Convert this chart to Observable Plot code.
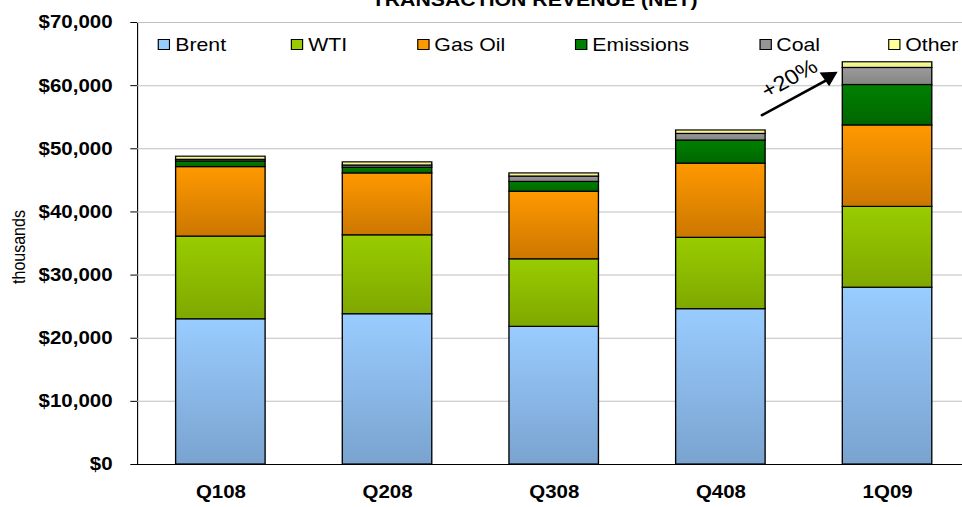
<!DOCTYPE html>
<html><head><meta charset="utf-8">
<script src="https://cdn.jsdelivr.net/npm/d3@7"></script>
<script src="https://cdn.jsdelivr.net/npm/@observablehq/plot@0.6"></script>
<style>
html,body{margin:0;padding:0;background:#fff;overflow:hidden}
#wrap{position:relative;width:860px;height:507px;transform:scale(1.1186,1);transform-origin:0 0;font-family:"Liberation Sans",Arial,sans-serif;color:#000}
#title{position:absolute;top:-10px;left:478px;transform:translateX(-50%);font-weight:bold;font-size:19px;line-height:19px;white-space:nowrap}
#ylab{position:absolute;left:16.8px;top:247px;transform:translate(-50%,-50%) rotate(-90deg);font-size:16px;line-height:16px;white-space:nowrap}
.leg{position:absolute;top:34.5px;height:19px;display:flex;align-items:center;font-size:19px;line-height:19px;white-space:nowrap}
.sw{width:9px;height:9px;border:1px solid #000;margin-right:4.5px}
#chart{position:absolute;left:0;top:0}
</style></head>
<body>
<div id="wrap">
  <div id="chart"></div>
  <div id="title">TRANSACTION REVENUE (NET)</div>
  <div id="ylab">thousands</div>
  <div id="legend"></div>
</div>
<script>
const quarters = ["Q108", "Q208", "Q308", "Q408", "1Q09"];
const seriesNames = ["Brent", "WTI", "Gas Oil", "Emissions", "Coal", "Other"];
const brent     = [23000, 23800, 21800, 24600, 28000];
const wti       = [13100, 12500, 10700, 11300, 12800];
const gasOil    = [11000,  9800, 10700, 11750, 12900];
const emissions = [  900,   900,  1550,  3650,  6400];
const coal      = [  250,   350,   850,  1050,  2700];
const other     = [  500,   500,   500,   550,   900];
const yTicks = [0, 10000, 20000, 30000, 40000, 50000, 60000, 70000];

const gradTop    = ["#99CCFF", "#99CC00", "#FF9900", "#008000", "#9A9A9A", "#FFFF99"];
const gradBottom = ["#7AA3CF", "#7FA800", "#CC7700", "#006600", "#858585", "#E8E88A"];
const swatch     = ["#99CCFF", "#99CC00", "#FF9900", "#008000", "#969696", "#FFFF99"];
const legendLeft = [141.2, 260.1, 372.8, 514, 678.5, 793.8];

const values = [brent, wti, gasOil, emissions, coal, other];
const data = seriesNames.flatMap((s, i) => quarters.map((q, j) => ({quarter: q, series: s, value: values[i][j]})));
const totals = quarters.map((q, j) => d3.sum(values, v => v[j]));
const growth = Math.round((totals[4] / totals[3] - 1) * 100);

const plot = Plot.plot({
  width: 860, height: 507,
  marginLeft: 122.5, marginRight: 0, marginTop: 22, marginBottom: 43,
  style: {fontFamily: "'Liberation Sans', Arial, sans-serif", fontSize: "18.3px", fontWeight: "bold", color: "#000", background: "transparent", overflow: "visible"},
  x: {domain: quarters, range: [122.2, 867.2], paddingInner: 0.466, paddingOuter: 0.233, align: 0.5, label: null, tickSize: 0, tickPadding: 20},
  y: {domain: [0, 70000], ticks: yTicks, tickFormat: d => "$" + d3.format(",")(d), tickSize: 6, tickPadding: 16.4, label: null, line: true},
  color: {domain: seriesNames, range: seriesNames.map((_, i) => `url(#grad${i})`)},
  marks: [
    Plot.ruleY(yTicks.slice(1), {stroke: "#c0c0c0", strokeWidth: 1}),
    Plot.barY(data, {x: "quarter", y: "value", fill: "series", stroke: "#000", strokeWidth: 1.2}),
    Plot.ruleY([0], {stroke: "#000"}),
    Plot.arrow({length: 1}, {x1: [quarters[3]], y1: [51800], x2: [quarters[4]], y2: [66100], insetStart: 42.9, insetEnd: 58, stroke: "#000", strokeWidth: 2.5, headLength: 0}),
    Plot.dot({length: 1}, {x: [quarters[4]], y: [61400], dx: -52.6, symbol: "triangle", r: 6, rotate: 57.8, fill: "#000"}),
    Plot.text({length: 1}, {x: [quarters[4]], y: [61100], dx: -87.7, text: ["+" + growth + "%"], rotate: -31, fontSize: 21, fontWeight: "normal"})
  ]
});

const defs = d3.select(plot).insert("defs", ":first-child");
gradTop.forEach((c, i) => {
  const g = defs.append("linearGradient").attr("id", `grad${i}`).attr("x1", 0).attr("y1", 0).attr("x2", 0).attr("y2", 1);
  g.append("stop").attr("offset", "0%").attr("stop-color", gradTop[i]);
  g.append("stop").attr("offset", "100%").attr("stop-color", gradBottom[i]);
});
document.getElementById("chart").appendChild(plot);

const legend = document.getElementById("legend");
seriesNames.forEach((s, i) => {
  const item = document.createElement("div");
  item.className = "leg";
  item.style.left = legendLeft[i] + "px";
  const sw = document.createElement("div");
  sw.className = "sw";
  sw.style.background = swatch[i];
  const t = document.createElement("span");
  t.textContent = s;
  item.appendChild(sw); item.appendChild(t);
  legend.appendChild(item);
});
</script>
</body></html>
